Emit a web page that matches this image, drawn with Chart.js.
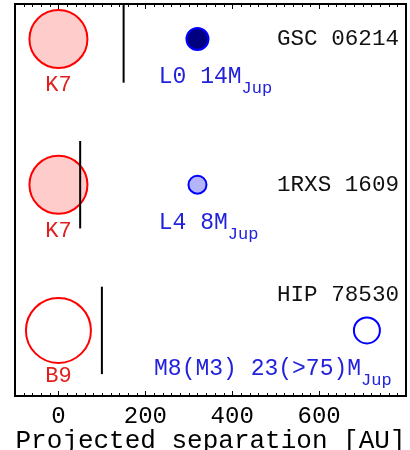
<!DOCTYPE html>
<html>
<head>
<meta charset="utf-8">
<script src="https://cdn.jsdelivr.net/npm/chart.js@4"></script>
<style>
  html, body { margin: 0; padding: 0; background: #fff; }
</style>
</head>
<body>
<canvas id="chart" width="410" height="450"></canvas>
<script>
"use strict";

// one row per system, top to bottom
const system_names = ['GSC 06214', '1RXS 1609', 'HIP 78530'];
const system_rows = [2, 1, 0];
const star_types = ['K7', 'K7', 'B9'];
const companion_separations = [320, 320, 710];   // AU
const companion_labels = ['L0 14M', 'L4 8M', 'M8(M3) 23(>75)M'];
const disk_edges = [150, 50, 100];               // AU, black bars
const x_tick_labels = [0, 200, 400, 600];

const mono = "'Liberation Mono', 'DejaVu Sans Mono', monospace";
const star_red = '#ff0000';
const text_red = '#e02020';
const comp_blue = '#0000ff';
const text_blue = '#2222dd';

// where the texts sit relative to each row (style, not data)
const name_row_offset = [0, 0, 0.24];
const comp_label_x = [231, 231, 220];

const annotations_plugin = {
    id: 'annotations',
    afterDatasetsDraw(chart) {
        const ctx = chart.ctx;
        const xs = chart.scales.x;
        const ys = chart.scales.y;
        const a = chart.chartArea;
        ctx.save();

        // frame
        ctx.strokeStyle = '#000';
        ctx.lineWidth = 2;
        ctx.strokeRect(a.left, a.top, a.right - a.left, a.bottom - a.top);

        // inward ticks on top and bottom
        ctx.lineWidth = 1;
        ctx.beginPath();
        for (let v = xs.min; v <= xs.max; v += 20) {
            const px = Math.round(xs.getPixelForValue(v)) + 0.5;
            const len = (v % 200 === 0) ? 5 : 3;
            ctx.moveTo(px, a.bottom);
            ctx.lineTo(px, a.bottom - len);
            ctx.moveTo(px, a.top);
            ctx.lineTo(px, a.top + len);
        }
        ctx.stroke();

        ctx.textBaseline = 'middle';
        system_names.forEach((name, i) => {
            const row = system_rows[i];
            const py = ys.getPixelForValue(row);

            ctx.fillStyle = '#111';
            ctx.textAlign = 'right';
            ctx.font = '22.6px ' + mono;
            ctx.fillText(name, a.right - 7, ys.getPixelForValue(row + name_row_offset[i]));

            ctx.fillStyle = text_red;
            ctx.textAlign = 'center';
            ctx.font = '22px ' + mono;
            ctx.fillText(star_types[i], xs.getPixelForValue(0), py + 46);

            ctx.fillStyle = text_blue;
            ctx.textAlign = 'left';
            ctx.font = '23px ' + mono;
            const lx = xs.getPixelForValue(comp_label_x[i]);
            const label = companion_labels[i];
            ctx.fillText(label, lx, py + 38);
            const w = ctx.measureText(label).width;
            ctx.font = '17px ' + mono;
            ctx.fillText('Jup', lx + w, py + 50);
        });
        ctx.restore();
    }
};

const line_datasets = disk_edges.map((d, i) => ({
    type: 'line',
    data: [{x: d, y: system_rows[i] - 0.3}, {x: d, y: system_rows[i] + 0.3}],
    borderColor: '#000',
    borderWidth: 2,
    pointRadius: 0,
}));

new Chart(document.getElementById('chart'), {
    type: 'scatter',
    data: {
        datasets: [
            ...line_datasets,
            {
                data: system_rows.map(r => ({x: 0, y: r})),
                pointRadius: [29, 29, 32.5],
                backgroundColor: ['#ffcccc', '#ffcccc', '#ffffff'],
                borderColor: star_red,
                borderWidth: 2,
            },
            {
                data: system_rows.map((r, i) => ({x: companion_separations[i], y: r})),
                pointRadius: [11, 9, 13],
                backgroundColor: ['#000080', '#b4b4f8', '#ffffff'],
                borderColor: comp_blue,
                borderWidth: 2,
            }
        ]
    },
    options: {
        responsive: false,
        animation: false,
        devicePixelRatio: 1,
        events: [],
        layout: { autoPadding: false, padding: { left: 15, right: 4, top: 4, bottom: 0 } },
        plugins: {
            legend: { display: false },
            tooltip: { enabled: false },
        },
        scales: {
            x: {
                type: 'linear',
                position: 'bottom',
                min: -100,
                max: 800,
                grid: { display: false, drawTicks: false },
                border: { display: false },
                afterBuildTicks: scale => {
                    scale.ticks = x_tick_labels.map(v => ({value: v}));
                },
                afterFit: scale => { scale.height = 54; },
                ticks: {
                    color: '#000',
                    font: { family: mono, size: 24 },
                    padding: 6,
                    maxRotation: 0,
                    autoSkip: false,
                },
                title: {
                    display: true,
                    text: 'Projected separation [AU]',
                    color: '#000',
                    font: { family: mono, size: 26 },
                    padding: { top: 0, bottom: -7 },
                },
            },
            y: {
                display: false,
                min: -0.45,
                max: 2.24,
            }
        }
    },
    plugins: [annotations_plugin]
});
</script>
</body>
</html>
